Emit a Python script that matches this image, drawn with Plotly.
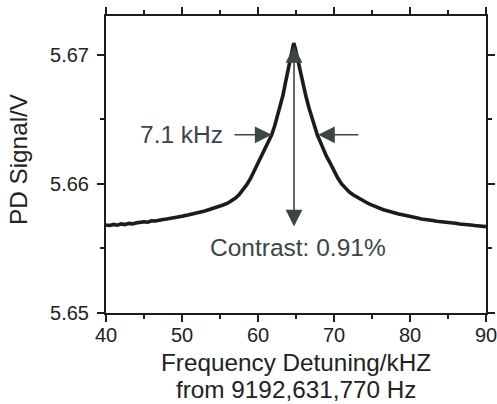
import plotly.graph_objects as go

# detuning (kHz from 9192,631,770 Hz) and photodiode signal (V)
detuning = [40.0, 40.5, 41.0, 41.5, 42.0, 42.5, 43.0, 43.5, 44.0, 44.5,
            45.0, 45.5, 46.0, 46.5, 47.0, 47.5, 48.0, 48.5, 49.0, 49.5,
            50.0, 50.5, 51.0, 51.5, 52.0, 52.5, 53.0, 53.5, 54.0, 54.5,
            55.0, 55.5, 56.0, 56.5, 57.0, 57.5, 58.0, 58.5, 59.0, 59.5,
            60.0, 60.5, 61.0, 61.5, 61.8, 62.2, 62.6, 63.0, 63.3, 63.6,
            64.0, 64.3, 64.5, 64.7, 64.9, 65.1, 65.4, 65.7, 66.0, 66.3,
            66.7, 67.1, 67.5, 67.8, 68.2, 68.6, 69.0, 69.5, 70.0, 70.5,
            71.0, 71.5, 72.0, 72.5, 73.0, 73.5, 74.0, 74.5, 75.0, 75.5,
            76.0, 76.5, 77.0, 77.5, 78.0, 78.5, 79.0, 79.5, 80.0, 80.5,
            81.0, 81.5, 82.0, 82.5, 83.0, 83.5, 84.0, 84.5, 85.0, 85.5,
            86.0, 86.5, 87.0, 87.5, 88.0, 88.5, 89.0, 89.5, 90.0]
signal = [5.65682, 5.65678, 5.65686, 5.65680, 5.65690, 5.65685, 5.65694, 5.65690, 5.65698, 5.65702,
          5.65706, 5.65703, 5.65714, 5.65712, 5.65720, 5.65724, 5.65728, 5.65732, 5.65740, 5.65744,
          5.65750, 5.65756, 5.65762, 5.65770, 5.65776, 5.65784, 5.65790, 5.65800, 5.65808, 5.65818,
          5.65828, 5.65838, 5.65850, 5.65866, 5.65888, 5.65915, 5.65950, 5.65992, 5.66040, 5.66098,
          5.66160, 5.66218, 5.66276, 5.66340, 5.66380, 5.66450, 5.66530, 5.66620, 5.66690, 5.66780,
          5.66900, 5.66990, 5.67045, 5.67090, 5.67050, 5.66995, 5.66910, 5.66825, 5.66750, 5.66680,
          5.66590, 5.66510, 5.66440, 5.66380, 5.66325, 5.66265, 5.66215, 5.66160, 5.66100, 5.66045,
          5.66000, 5.65965, 5.65938, 5.65916, 5.65898, 5.65880, 5.65864, 5.65848, 5.65836, 5.65822,
          5.65812, 5.65800, 5.65792, 5.65782, 5.65774, 5.65766, 5.65760, 5.65752, 5.65746, 5.65740,
          5.65735, 5.65728, 5.65726, 5.65719, 5.65716, 5.65711, 5.65709, 5.65703, 5.65701, 5.65696,
          5.65695, 5.65689, 5.65688, 5.65683, 5.65682, 5.65677, 5.65676, 5.65670, 5.65669]

x_ticks = [40, 50, 60, 70, 80, 90]
y_ticks = [5.65, 5.66, 5.67]

# annotation anchors (kHz, V)
peak = (64.74, 5.6709)
floor_level = 5.6567
half_level = 5.6638
left_tip, left_tail = 61.8, 56.7
right_tip, right_tail = 67.9, 73.4

ink = "#3b4646"
fnt = "Liberation Sans, Arial, sans-serif"

fig = go.Figure()
fig.add_trace(go.Scatter(x=detuning, y=signal, mode="lines",
                         line=dict(color="#1c1c1c", width=3.6), hoverinfo="skip"))

def arrow(x, y, ax, ay, side="end"):
    fig.add_annotation(x=x, y=y, ax=ax, ay=ay, xref="x", yref="y", axref="x", ayref="y",
                       text="", showarrow=True, arrowhead=2, arrowsize=2.1, arrowwidth=1.6,
                       arrowcolor=ink, arrowside=side, standoff=0, startstandoff=0)

arrow(left_tip, half_level, left_tail, half_level)
arrow(right_tip, half_level, right_tail, half_level)
arrow(peak[0], floor_level, peak[0], peak[1] - 0.0001, side="end+start")

note_font = dict(size=24.5, color=ink, family=fnt)
fig.add_annotation(x=55.7, y=half_level, xref="x", yref="y", text="7.1 kHz",
                   showarrow=False, xanchor="right", yanchor="middle", font=note_font)
fig.add_annotation(x=65.2, y=5.6551, xref="x", yref="y", text="Contrast: 0.91%",
                   showarrow=False, xanchor="center", yanchor="middle", font=note_font)

# axis titles as paper annotations so they sit where the reference puts them
title_font = dict(size=24.3, color="#222", family=fnt)
fig.add_annotation(x=0.5, y=-0.165, xref="paper", yref="paper", text="Frequency Detuning/kHZ",
                   showarrow=False, xanchor="center", yanchor="middle", font=title_font)
fig.add_annotation(x=0.5, y=-0.259, xref="paper", yref="paper", text="from 9192,631,770 Hz",
                   showarrow=False, xanchor="center", yanchor="middle", font=title_font)
fig.add_annotation(x=-0.2316, y=0.5185, xref="paper", yref="paper", text="PD Signal/V",
                   showarrow=False, textangle=-90, xanchor="center", yanchor="middle",
                   font=title_font)

axis_common = dict(showline=True, linecolor="#1c1c1c", linewidth=2, mirror="allticks",
                   ticks="outside", ticklen=7, tickwidth=2, tickcolor="#1c1c1c",
                   showgrid=False, zeroline=False, automargin=False, ticklabeloverflow="allow",
                   tickfont=dict(size=20, color="#222", family=fnt))

fig.update_xaxes(range=[40, 90], tickvals=x_ticks, ticklabelstandoff=-4,
                 minor=dict(dtick=5, ticks="outside", ticklen=4, tickwidth=2, tickcolor="#1c1c1c"),
                 **axis_common)
fig.update_yaxes(range=[5.65, 5.673], tickvals=y_ticks, tickformat=".2f", ticklabelstandoff=4,
                 minor=dict(dtick=0.005, ticks="outside", ticklen=4, tickwidth=2, tickcolor="#1c1c1c"),
                 **axis_common)

fig.update_layout(width=497, height=404, margin=dict(l=106, r=11, t=16, b=91),
                  plot_bgcolor="white", paper_bgcolor="white", showlegend=False,
                  font=dict(family=fnt))

# the page body has a default margin; drop it so the figure sits at the window corner
fig.write_html("out.html", config={"displayModeBar": False},
               post_script="document.body.style.margin='0';")
